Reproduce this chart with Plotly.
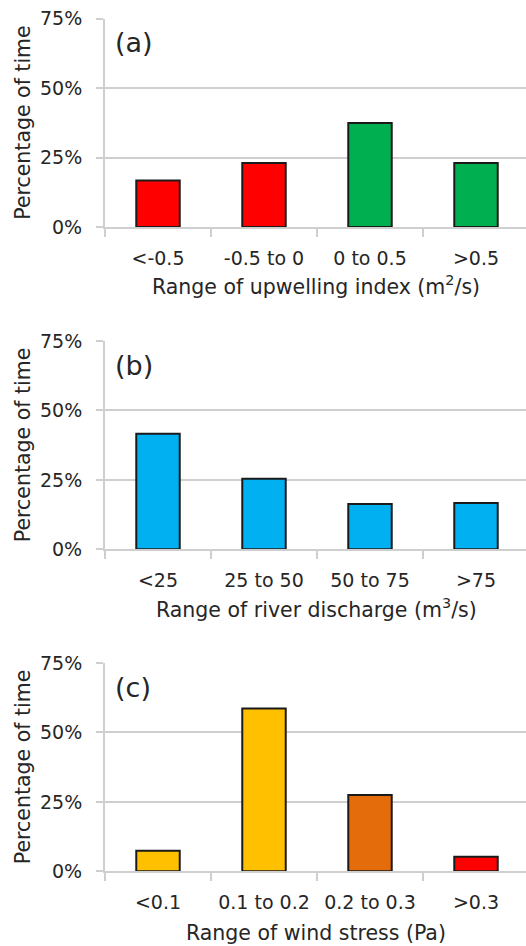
import plotly.graph_objects as go

# ---- data ----
cats_a = ["<-0.5", "-0.5 to 0", "0 to 0.5", ">0.5"]
vals_a = [16.7, 23.0, 37.4, 23.0]
cols_a = ["#FF0000", "#FF0000", "#00B050", "#00B050"]

cats_b = ["<25", "25 to 50", "50 to 75", ">75"]
vals_b = [41.6, 25.4, 16.3, 16.7]
cols_b = ["#00B0F0", "#00B0F0", "#00B0F0", "#00B0F0"]

cats_c = ["<0.1", "0.1 to 0.2", "0.2 to 0.3", ">0.3"]
vals_c = [7.4, 58.6, 27.5, 5.2]
cols_c = ["#FFC000", "#FFC000", "#E46C0A", "#FF0000"]

panel_labels = ["(a)", "(b)", "(c)"]
x_titles = ["Range of upwelling index (m<sup>2</sup>/s)",
            "Range of river discharge (m<sup>3</sup>/s)",
            "Range of wind stress (Pa)"]
y_title = "Percentage of time"
y_ticks = [0, 25, 50, 75]
y_ticktext = ["0%", "25%", "50%", "75%"]

# ---- layout geometry (pixels) ----
W, H = 526, 946
L = 105
PW = W - L
panels = [(18.5, 227.0), (341.0, 549.3), (663.0, 871.3)]  # (top, bottom) px
xlabel_y = [285, 608, 933]

FONT = "DejaVu Sans"
TXT = "#262626"
GRID = "#CFCFCF"

fig = go.Figure()
data = [(cats_a, vals_a, cols_a), (cats_b, vals_b, cols_b), (cats_c, vals_c, cols_c)]
annotations = []
for i, (cats, vals, cols) in enumerate(data):
    n = i + 1
    xa = "x" if n == 1 else f"x{n}"
    ya = "y" if n == 1 else f"y{n}"
    fig.add_trace(go.Bar(x=cats, y=vals, marker=dict(color=cols, line=dict(color="#1A1A1A", width=2)),
                         width=0.41, xaxis=xa, yaxis=ya, showlegend=False))
    top, bot = panels[i]
    dom = [1 - bot / H, 1 - top / H]
    xkey = "xaxis" if n == 1 else f"xaxis{n}"
    ykey = "yaxis" if n == 1 else f"yaxis{n}"
    fig.layout[xkey] = dict(
        domain=[0, 1], anchor=ya, type="category", range=[-0.5, -0.5 + PW / 106.0],
        tickson="boundaries", ticks="outside", ticklen=8, tickwidth=2, tickcolor=GRID,
        showline=True, linecolor=GRID, linewidth=2, showgrid=False, zeroline=False,
        tickfont=dict(family=FONT, size=19, color=TXT), automargin=False, fixedrange=True,
        ticklabelstandoff=13,
    )
    fig.layout[ykey] = dict(
        domain=dom, anchor=xa, range=[0, 75], tickvals=y_ticks, ticktext=y_ticktext,
        ticks="outside", ticklen=7, tickwidth=2, tickcolor=GRID,
        showgrid=True, gridcolor=GRID, gridwidth=2, showline=True, linecolor=GRID, linewidth=2,
        zeroline=False, tickfont=dict(family=FONT, size=19, color=TXT), automargin=False,
        ticklabelstandoff=10, fixedrange=True,
    )
    # panel label
    annotations.append(dict(text=panel_labels[i], x=(113 - L) / PW, y=1 - (top + 24) / H,
                            xref="paper", yref="paper", xanchor="left", yanchor="middle",
                            showarrow=False, font=dict(family=FONT, size=27, color=TXT)))
    # x title
    annotations.append(dict(text=x_titles[i], x=(316 - L) / PW, y=1 - xlabel_y[i] / H,
                            xref="paper", yref="paper", xanchor="center", yanchor="middle",
                            showarrow=False, font=dict(family=FONT, size=20.5, color=TXT)))
    # y title
    annotations.append(dict(text=y_title, x=(23 - L) / PW, y=1 - (top + bot) / 2 / H,
                            xref="paper", yref="paper", xanchor="center", yanchor="middle",
                            textangle=-90, showarrow=False, font=dict(family=FONT, size=20.5, color=TXT)))

fig.update_layout(
    width=W, height=H, margin=dict(l=L, r=0, t=0, b=0),
    paper_bgcolor="white", plot_bgcolor="white", template="none",
    bargap=0.59, annotations=annotations, showlegend=False,
)
fig.write_html("out.html", config={"displayModeBar": False},
               post_script="document.body.style.margin='0';document.body.style.overflow='hidden';")
